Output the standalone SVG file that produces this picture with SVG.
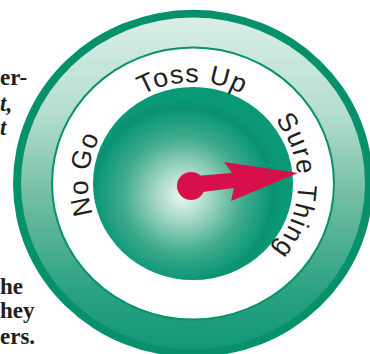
<svg xmlns="http://www.w3.org/2000/svg" width="370" height="354" viewBox="0 0 370 354">
<defs>
<linearGradient id="band" x1="0" y1="-180" x2="0" y2="180" gradientUnits="userSpaceOnUse">
<stop offset="0" stop-color="#dcf0e9"/>
<stop offset="0.3" stop-color="#b4ddce"/>
<stop offset="0.55" stop-color="#6fbca1"/>
<stop offset="0.8" stop-color="#2ca383"/>
<stop offset="1" stop-color="#0f9672"/>
</linearGradient>
<radialGradient id="hub" cx="-10" cy="12" r="100" fx="-10" fy="12" gradientUnits="userSpaceOnUse">
<stop offset="0" stop-color="#eef7f3"/>
<stop offset="0.28" stop-color="#a2d6c4"/>
<stop offset="0.6" stop-color="#40ab8c"/>
<stop offset="0.85" stop-color="#10997a"/>
<stop offset="0.9" stop-color="#0b9170"/>
<stop offset="1" stop-color="#0a9975"/>
</radialGradient>
<path id="arc" d="M0,105 A105,105 0 1 1 0,-105 A105,105 0 1 1 0,105"/>
</defs>
<style>
.lbl{font-family:"Liberation Sans","DejaVu Sans",sans-serif;font-size:27px;fill:#231f20;letter-spacing:1px}
.pg{font-family:"Liberation Serif",serif;font-size:23px;font-weight:bold;fill:#231f20}
.pgi{font-family:"Liberation Serif",serif;font-size:23px;font-weight:bold;font-style:italic;fill:#231f20}
</style>
<g id="page-text">
<text class="pg" x="0" y="85">er-</text>
<text class="pgi" x="0" y="111">t,</text>
<text class="pgi" x="0" y="135">t</text>
<text class="pg" x="0" y="294">he</text>
<text class="pg" x="0" y="318">hey</text>
<text class="pg" x="0" y="344">ers.</text>
</g>
<g id="dial" transform="translate(193,183.5) scale(1,0.965)">
<circle id="outer-ring" r="180" fill="#06916b"/>
<circle id="band-ring" r="172" fill="url(#band)"/>
<circle id="inner-line" r="142" fill="#06916b"/>
<circle id="white-ring" r="140" fill="#ffffff"/>
<circle id="hub-circle" r="100" fill="url(#hub)"/>
<g id="labels">
<text class="lbl" text-anchor="middle"><textPath href="#arc" startOffset="174">No Go</textPath></text>
<text class="lbl" text-anchor="middle"><textPath href="#arc" startOffset="329">Toss Up</textPath></text>
<text class="lbl" text-anchor="middle" style="letter-spacing:1.6px"><textPath href="#arc" startOffset="497">Sure Thing</textPath></text>
</g>
</g>
<g id="pointer" fill="#d7104b">
<circle cx="191" cy="186" r="14"/>
<polygon points="195,176 232,173 224,162 298,173 231,201 234,188 195,193"/>
</g>
</svg>
